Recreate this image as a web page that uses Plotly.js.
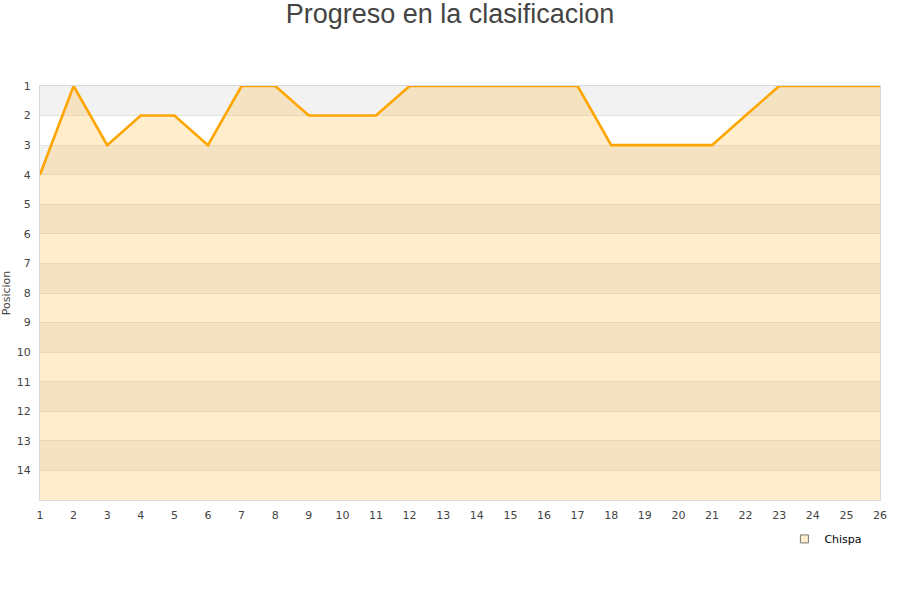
<!DOCTYPE html>
<html>
<head>
<meta charset="utf-8">
<script src="https://cdn.plot.ly/plotly-3.0.1.min.js"></script>
<style>html,body{margin:0;padding:0;background:#fff;}#chart{width:900px;height:600px;}</style>
</head>
<body>
<div id="chart"></div>
<script>
var jornadas = [1,2,3,4,5,6,7,8,9,10,11,12,13,14,15,16,17,18,19,20,21,22,23,24,25,26];
var posiciones = [4,1,3,2,2,3,1,1,2,2,2,1,1,1,1,1,1,3,3,3,3,2,1,1,1,1];
var equipo = "Chispa";
var totalEquipos = 15;
var yTicks = [1,2,3,4,5,6,7,8,9,10,11,12,13,14];

var baseline = jornadas.map(function(){ return totalEquipos; });

var shapes = [];
for (var n = 1; n < totalEquipos; n += 2) {
  shapes.push({type:'rect', xref:'paper', yref:'y', x0:0, x1:1, y0:n, y1:n+1,
    fillcolor:'#f2f2f2', line:{width:0}, layer:'below'});
}

var traces = [
  {x: jornadas, y: baseline, mode:'lines', line:{width:0, color:'rgba(0,0,0,0)'},
   showlegend:false, hoverinfo:'skip'},
  {x: jornadas, y: posiciones, name: equipo, mode:'lines', fill:'tonexty',
   fillcolor:'rgba(255,165,0,0.2)', line:{color:'#ffa500', width:2.6}, showlegend:false},
  {x: [null], y: [null], name: equipo, mode:'markers', showlegend:true,
   marker:{symbol:'square', size:8, color:'#ffedcc', line:{color:'#777', width:1}}}
];

var layout = {
  width:900, height:600,
  margin:{l:40, r:20, t:86, b:100},
  paper_bgcolor:'#fff', plot_bgcolor:'#fff',
  font:{family:'DejaVu Sans, sans-serif', size:11, color:'#444'},
  title:{text:'Progreso en la clasificacion', x:0.5, xanchor:'center', y:0.993, yanchor:'top',
    font:{family:'Liberation Sans, Arial, sans-serif', size:27, color:'#444'}},
  xaxis:{range:[1,26], tickvals:jornadas, ticktext:jornadas.map(String), showgrid:false,
    zeroline:false, showline:true, mirror:true, linecolor:'#d9d9d9', linewidth:1,
    ticks:'', ticklabelstandoff:5, tickfont:{size:11, color:'#444'}},
  yaxis:{range:[totalEquipos, 1], tickvals:yTicks, showgrid:true, gridcolor:'#e3e3e3',
    zeroline:false, showline:true, mirror:true, linecolor:'#d9d9d9', linewidth:1,
    ticks:'', ticklabelstandoff:6, tickfont:{size:11, color:'#444'},
    title:{text:'Posicion', standoff:4, font:{size:11, color:'#444'}}},
  shapes: shapes,
  showlegend:true,
  legend:{x:0.985, xanchor:'right', y:-0.094, yanchor:'middle', orientation:'h',
    font:{size:11, color:'#000'}, bgcolor:'rgba(0,0,0,0)', itemwidth:30}
};

Plotly.newPlot('chart', traces, layout, {displayModeBar:false, staticPlot:true});
</script>
</body>
</html>
